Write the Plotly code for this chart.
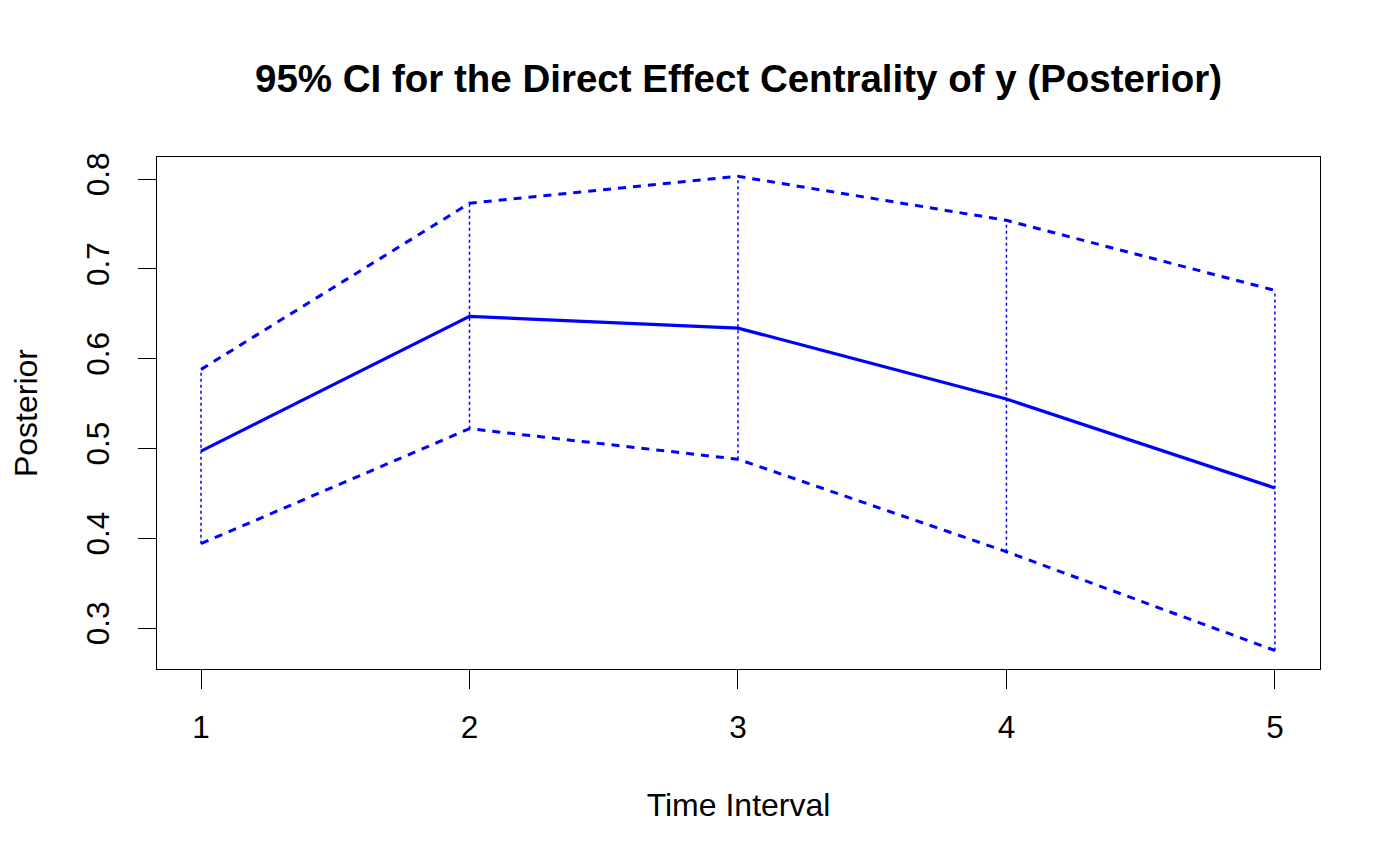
import plotly.graph_objects as go

time_interval = [1, 2, 3, 4, 5]
posterior_est = [0.497, 0.647, 0.634, 0.555, 0.456]
ci_lower = [0.394, 0.522, 0.488, 0.385, 0.275]
ci_upper = [0.588, 0.773, 0.803, 0.754, 0.676]
y_ticks = [0.3, 0.4, 0.5, 0.6, 0.7, 0.8]

BLUE = "#0000FF"
FONT = "Liberation Sans, Arial, Helvetica, sans-serif"

fig = go.Figure()

# vertical dotted segments connecting lower and upper bounds
vx, vy = [], []
for t, lo, hi in zip(time_interval, ci_lower, ci_upper):
    vx += [t, t, None]
    vy += [lo, hi, None]
fig.add_trace(go.Scatter(x=vx, y=vy, mode="lines",
                         line=dict(color=BLUE, width=1.5, dash="3px,3px"),
                         hoverinfo="skip", showlegend=False))

fig.add_trace(go.Scatter(x=time_interval, y=ci_upper, mode="lines",
                         line=dict(color=BLUE, width=3, dash="8px,7px"),
                         showlegend=False))
fig.add_trace(go.Scatter(x=time_interval, y=ci_lower, mode="lines",
                         line=dict(color=BLUE, width=3, dash="8px,7px"),
                         showlegend=False))
fig.add_trace(go.Scatter(x=time_interval, y=posterior_est, mode="lines",
                         line=dict(color=BLUE, width=3.2),
                         showlegend=False))

fig.update_layout(
    width=1400, height=866,
    paper_bgcolor="white", plot_bgcolor="white",
    margin=dict(l=149, r=88, t=149, b=205),
    font=dict(family=FONT, color="black", size=32),
    title=dict(text="<b>95% CI for the Direct Effect Centrality of y (Posterior)</b>",
               x=(149 + 1312) / 2 / 1400, xanchor="center",
               y=1 - 71 / 866, yanchor="middle", yref="container",
               font=dict(size=38.5, family=FONT, color="black")),
    xaxis=dict(range=[0.836, 5.168], tickmode="array", tickvals=time_interval,
               ticktext=[str(t) for t in time_interval],
               showgrid=False, zeroline=False, showline=True, mirror=True,
               linecolor="black", linewidth=1.3, ticks="outside", ticklen=19,
               tickwidth=1.3, tickcolor="black", ticklabelstandoff=11,
               tickfont=dict(size=31.5),
               title=dict(text="Time Interval", font=dict(size=32), standoff=49)),
    yaxis=dict(range=[0.2544, 0.8245], tickmode="array", tickvals=y_ticks,
               ticktext=[f"{v:.1f}" for v in y_ticks],
               showgrid=False, zeroline=False, showline=True, mirror=True,
               linecolor="black", linewidth=1.3, ticks="outside", ticklen=18,
               tickwidth=1.3, tickcolor="black", tickangle=-90, ticklabelstandoff=16,
               tickfont=dict(size=31.5),
               title=dict(text="Posterior", font=dict(size=32), standoff=39)),
)

fig.write_html("out.html")
